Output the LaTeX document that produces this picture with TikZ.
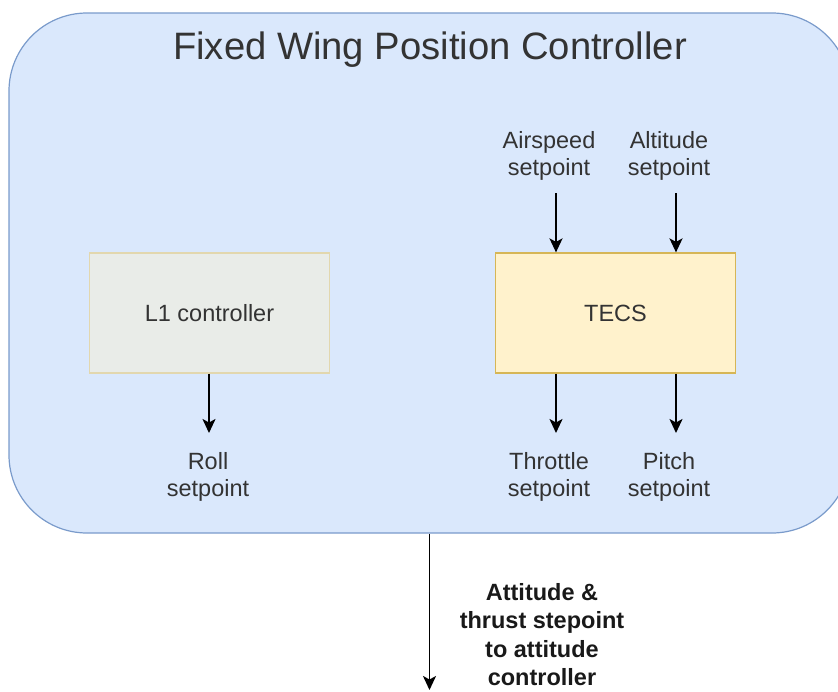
\documentclass[tikz,border=0pt]{standalone}
\usepackage{fontspec}
\setmainfont{Liberation Sans}
\usetikzlibrary{arrows.meta}
\definecolor{groupfill}{HTML}{DAE8FC}
\definecolor{groupline}{HTML}{7A9BCB}
\definecolor{tecsfill}{HTML}{FFF2CC}
\definecolor{tecsline}{HTML}{D6B656}
\definecolor{lonefill}{HTML}{E9ECE8}
\definecolor{loneline}{HTML}{E2D7AE}
\definecolor{txt}{HTML}{333333}
\tikzset{
  blockbox/.style={draw, line width=1.2pt, minimum width=240pt, minimum height=120pt,
    inner sep=0pt, font=\fontsize{23.5}{27.5}\selectfont, text=txt},
  lbl/.style={align=center, inner sep=0pt, font=\fontsize{23.5}{27.5}\selectfont, text=txt},
  arr/.style={line width=1.9pt, -{Stealth[length=14pt,width=13pt,inset=3.5pt]}},
}
\begin{document}
\begin{tikzpicture}[x=1pt,y=-1pt]
\useasboundingbox (0,0) rectangle (838,691);
\begin{scope}
\clip (0,0) rectangle (838,691);
% outer group container
\node[draw=groupline, fill=groupfill, line width=1.2pt, rounded corners=78pt,
  minimum width=841pt, minimum height=520pt, inner sep=0pt] (outer) at (429.5,273) {};
\end{scope}
\node[lbl, font=\fontsize{38.2}{40}\selectfont] (title) at (430,50) {Fixed Wing Position Controller};

% controller blocks
\node[blockbox, draw=loneline, fill=lonefill] (lone) at (209.5,313) {L1 controller};
\node[blockbox, draw=tecsline, fill=tecsfill] (tecs) at (615.5,313) {TECS};

% setpoint labels
\node[lbl] (asp) at (549,156) {Airspeed\\setpoint};
\node[lbl] (alt) at (669,156) {Altitude\\setpoint};
\node[lbl] (roll) at (208,477) {Roll\\setpoint};
\node[lbl] (thr) at (549,477) {Throttle\\setpoint};
\node[lbl] (pitch) at (669,477) {Pitch\\setpoint};

% arrow anchor points
\coordinate (aspTop) at (556,193);
\coordinate (altTop) at (676,193);
\coordinate (rollEnd) at (209,433);
\coordinate (thrEnd) at (556,433);
\coordinate (pitchEnd) at (676,433);
\coordinate (outEnd) at (429.5,690);

\draw[arr] (aspTop) -- (aspTop |- tecs.north);
\draw[arr] (altTop) -- (altTop |- tecs.north);
\draw[arr] (rollEnd |- lone.south) -- (rollEnd);
\draw[arr] (thrEnd |- tecs.south) -- (thrEnd);
\draw[arr] (pitchEnd |- tecs.south) -- (pitchEnd);
\draw[arr] (outer.south) -- (outEnd);

\node[lbl, text=black!90, font=\fontsize{23.5}{28.2}\selectfont\bfseries] (out) at (542,634.5)
  {Attitude \&\\thrust stepoint\\to attitude\\controller};
\end{tikzpicture}
\end{document}
